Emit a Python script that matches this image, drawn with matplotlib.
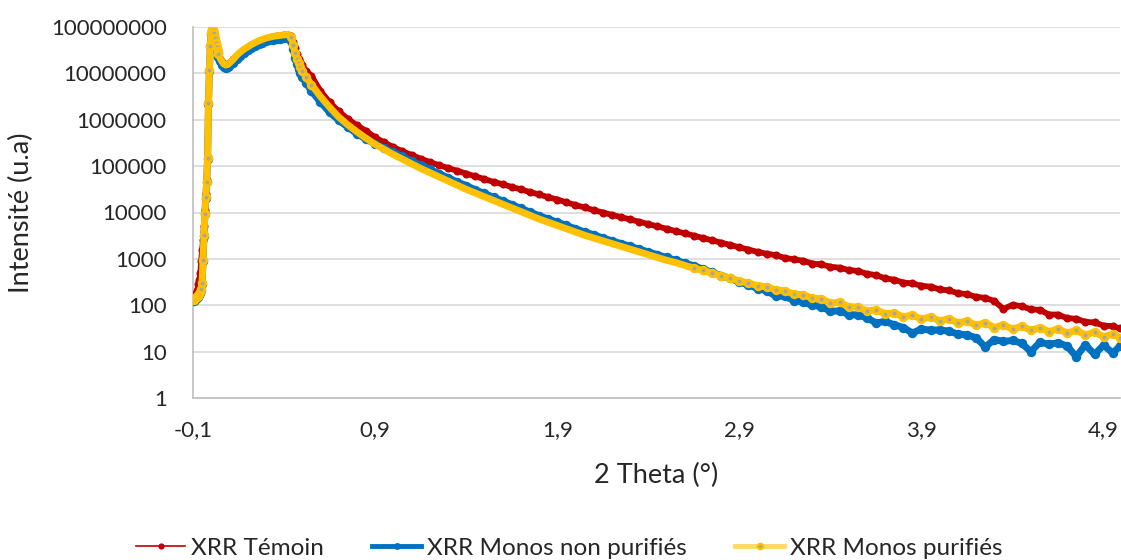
import matplotlib
matplotlib.use('Agg')
import matplotlib.pyplot as plt
from matplotlib.lines import Line2D
from matplotlib.ticker import NullLocator
import numpy as np

plt.rcParams['font.family'] = ['Lato', 'DejaVu Sans']

# 2 theta (deg): fine steps around the critical edge, then the decay
theta_peak = [-0.095, -0.09, -0.085, -0.08, -0.075, -0.07, -0.065, -0.06, -0.055, -0.05,
              -0.045, -0.04, -0.035, -0.03, -0.025, -0.02, -0.015, -0.01, -0.005, 0.0,
              0.005, 0.01, 0.015, 0.02, 0.025, 0.03, 0.035, 0.04,
              0.05, 0.06, 0.07, 0.08, 0.09, 0.10,
              0.12, 0.14, 0.16, 0.18, 0.20, 0.22, 0.24, 0.26, 0.28, 0.30, 0.32, 0.34,
              0.36, 0.38, 0.40, 0.42,
              0.44, 0.45, 0.46, 0.47, 0.48, 0.49, 0.50, 0.52]
theta_decay = [0.55, 0.60, 0.65, 0.70, 0.75, 0.80, 0.85, 0.90, 0.95, 1.00,
               1.05, 1.10, 1.15, 1.20, 1.25, 1.30, 1.35, 1.40, 1.45, 1.50,
               1.55, 1.60, 1.65, 1.70, 1.75, 1.80, 1.85, 1.90, 1.95, 2.00,
               2.05, 2.10, 2.15, 2.20, 2.25, 2.30, 2.35, 2.40, 2.45, 2.50,
               2.55, 2.60, 2.65, 2.70, 2.75, 2.80, 2.85, 2.90, 2.95, 3.00,
               3.05, 3.10, 3.15, 3.20, 3.25, 3.30, 3.35, 3.40, 3.45, 3.50,
               3.55, 3.60, 3.65, 3.70, 3.75, 3.80, 3.85, 3.90, 3.95, 4.00,
               4.05, 4.10, 4.15, 4.20, 4.25, 4.30, 4.35, 4.40, 4.45, 4.50,
               4.55, 4.60, 4.65, 4.70, 4.75, 4.80, 4.85, 4.90, 4.95, 4.99]

# log10 of intensity
log_temoin_peak = [2.15, 2.20, 2.25, 2.30, 2.35, 2.45, 2.55, 2.70, 2.95, 3.20,
                   3.40, 3.70, 4.05, 4.40, 4.70, 5.20, 6.38, 7.08, 7.60, 7.87,
                   7.95, 7.94, 7.87, 7.77, 7.66, 7.57, 7.49, 7.42,
                   7.32, 7.25, 7.20, 7.18, 7.19, 7.22,
                   7.30, 7.38, 7.45, 7.51, 7.56, 7.61, 7.65, 7.69, 7.72, 7.75, 7.77, 7.79,
                   7.80, 7.81, 7.82, 7.83,
                   7.80, 7.68, 7.54, 7.42, 7.32, 7.24, 7.17, 7.06]
log_temoin_decay = [6.95, 6.62, 6.38, 6.18, 6.02, 5.88, 5.76, 5.62, 5.51, 5.41,
                    5.32, 5.24, 5.16, 5.09, 5.02, 4.96, 4.90, 4.84, 4.78, 4.72,
                    4.66, 4.61, 4.55, 4.50, 4.44, 4.39, 4.33, 4.28, 4.22, 4.16,
                    4.11, 4.05, 4.00, 3.95, 3.90, 3.85, 3.80, 3.75, 3.70, 3.65,
                    3.60, 3.55, 3.50, 3.45, 3.40, 3.35, 3.30, 3.25, 3.20, 3.15,
                    3.11, 3.08, 3.02, 2.99, 2.96, 2.90, 2.88, 2.83, 2.81, 2.76,
                    2.74, 2.68, 2.65, 2.58, 2.55, 2.49, 2.47, 2.42, 2.40, 2.34,
                    2.32, 2.26, 2.24, 2.18, 2.16, 2.09, 1.92, 2.01, 1.98, 1.91,
                    1.90, 1.80, 1.80, 1.72, 1.71, 1.64, 1.63, 1.56, 1.55, 1.50]

log_non_purif_peak = [2.10, 2.12, 2.15, 2.16, 2.18, 2.20, 2.22, 2.26, 2.32, 2.45,
                      2.95, 3.50, 3.96, 4.32, 4.65, 5.15, 6.34, 7.05, 7.58, 7.85,
                      7.93, 7.91, 7.84, 7.73, 7.62, 7.52, 7.44, 7.36,
                      7.26, 7.19, 7.14, 7.12, 7.13, 7.16,
                      7.23, 7.31, 7.38, 7.45, 7.50, 7.55, 7.59, 7.63, 7.66, 7.69, 7.71, 7.73,
                      7.74, 7.75, 7.76, 7.76,
                      7.70, 7.52, 7.34, 7.20, 7.09, 7.00, 6.92, 6.80]
log_non_purif_decay = [6.62, 6.38, 6.16, 5.99, 5.84, 5.70, 5.58, 5.48, 5.39, 5.30,
                       5.21, 5.11, 5.02, 4.93, 4.84, 4.75, 4.66, 4.58, 4.49, 4.41,
                       4.33, 4.25, 4.17, 4.09, 4.01, 3.93, 3.86, 3.79, 3.72, 3.65,
                       3.58, 3.52, 3.45, 3.39, 3.33, 3.27, 3.21, 3.15, 3.09, 3.03,
                       2.97, 2.91, 2.85, 2.78, 2.71, 2.64, 2.58, 2.50, 2.44, 2.36,
                       2.31, 2.20, 2.19, 2.10, 2.07, 2.00, 1.97, 1.87, 1.88, 1.80,
                       1.79, 1.73, 1.62, 1.65, 1.58, 1.52, 1.40, 1.49, 1.46, 1.47,
                       1.44, 1.38, 1.36, 1.30, 1.10, 1.26, 1.22, 1.24, 1.18, 1.00,
                       1.20, 1.16, 1.19, 1.12, 0.89, 1.15, 0.94, 1.14, 0.97, 1.12]

log_purif_peak = [2.12, 2.15, 2.17, 2.18, 2.20, 2.22, 2.25, 2.28, 2.35, 2.48,
                  2.97, 3.51, 3.97, 4.33, 4.66, 5.17, 6.36, 7.07, 7.60, 7.87,
                  7.95, 7.94, 7.87, 7.77, 7.66, 7.57, 7.49, 7.42,
                  7.32, 7.25, 7.20, 7.18, 7.19, 7.22,
                  7.30, 7.39, 7.46, 7.52, 7.57, 7.62, 7.66, 7.70, 7.73, 7.76, 7.78, 7.80,
                  7.81, 7.82, 7.83, 7.84,
                  7.79, 7.62, 7.45, 7.32, 7.22, 7.14, 7.06, 6.93]
log_purif_decay = [6.76, 6.50, 6.27, 6.06, 5.89, 5.74, 5.60, 5.47, 5.36, 5.25,
                   5.15, 5.05, 4.95, 4.86, 4.77, 4.68, 4.59, 4.50, 4.42, 4.34,
                   4.26, 4.18, 4.10, 4.02, 3.94, 3.86, 3.79, 3.72, 3.65, 3.58,
                   3.51, 3.45, 3.39, 3.33, 3.27, 3.21, 3.15, 3.09, 3.03, 2.97,
                   2.92, 2.86, 2.80, 2.75, 2.70, 2.63, 2.59, 2.52, 2.48, 2.42,
                   2.40, 2.33, 2.31, 2.24, 2.23, 2.15, 2.14, 2.05, 2.06, 1.97,
                   1.96, 1.88, 1.90, 1.82, 1.83, 1.75, 1.79, 1.70, 1.75, 1.66,
                   1.71, 1.62, 1.66, 1.57, 1.62, 1.52, 1.58, 1.48, 1.55, 1.46,
                   1.52, 1.43, 1.49, 1.40, 1.46, 1.36, 1.42, 1.32, 1.38, 1.30]

series_names = ['XRR Témoin', 'XRR Monos non purifiés', 'XRR Monos purifiés']

x_ticks = [-0.1, 0.9, 1.9, 2.9, 3.9, 4.9]
x_tick_labels = ['-0,1', '0,9', '1,9', '2,9', '3,9', '4,9']
y_ticks = [1, 10, 100, 1000, 10000, 100000, 1000000, 10000000, 100000000]
y_tick_labels = ['1', '10', '100', '1000', '10000', '100000', '1000000',
                 '10000000', '100000000']

theta = np.array(theta_peak + theta_decay)
temoin = 10 ** np.array(log_temoin_peak + log_temoin_decay)
non_purif = 10 ** np.array(log_non_purif_peak + log_non_purif_decay)
purif = 10 ** np.array(log_purif_peak + log_purif_decay)

# where the yellow points spread apart, their grey centres show
spread = (theta < 0.05) | ((theta > 0.43) & (theta < 0.6)) | (theta > 2.6)

fig = plt.figure(figsize=(11.21, 5.60), dpi=100)
ax = fig.add_axes([193 / 1121, 162 / 560, 927 / 1121, 371 / 560])

# dense measurement points make thick bands in the original
ax.plot(theta, temoin, color='#C00000', lw=4.2, marker='o', ms=5.8, mew=0, zorder=3)
ax.plot(theta, non_purif, color='#0070C0', lw=5.0, marker='o', ms=6.8, mew=0, zorder=4)
ax.plot(theta, purif, color='#FFC000', lw=5.0, marker='o', ms=4.8, markevery=spread,
        mfc='#A5A5A5', mec='#FFC000', mew=2.0, zorder=5)

ax.set_yscale('log')
ax.set_ylim(1, 1e8)
ax.set_xlim(-0.1, 4.99)
ax.set_yticks(y_ticks)
ax.set_yticklabels(y_tick_labels)
ax.yaxis.set_minor_locator(NullLocator())
ax.set_xticks(x_ticks)
ax.set_xticklabels(x_tick_labels)
ax.tick_params(axis='both', length=0, labelsize=16, labelcolor='#262626')
ax.tick_params(axis='y', pad=19)
ax.tick_params(axis='x', pad=16)

ax.grid(axis='y', color='#D9D9D9', lw=1.2)
ax.set_axisbelow(True)
for side in ['top', 'right']:
    ax.spines[side].set_visible(False)
for side in ['left', 'bottom']:
    ax.spines[side].set_color('#BFBFBF')
    ax.spines[side].set_linewidth(1.2)

ax.set_xlabel('2 Theta (°)', fontsize=19.5, color='#262626')
ax.xaxis.set_label_coords(0.5, -0.2075)
ax.xaxis.label.set_va('center')
ax.set_ylabel('Intensité (u.a)', fontsize=19.5, color='#262626')
ax.yaxis.set_label_coords(-0.1845, 0.5)
ax.yaxis.label.set_va('center')

handles = [Line2D([], [], color='#C00000', lw=1.2, marker='o', ms=4.5, mew=0),
           Line2D([], [], color='#0070C0', lw=3.5, marker='o', ms=5, mew=0),
           Line2D([], [], color='#FFD966', lw=3.5, marker='o', ms=4,
                  mfc='#A5A5A5', mec='#FFC000', mew=1.5)]
fig.legend(handles, series_names, loc='center', bbox_to_anchor=(0.508, 0.021),
           ncol=3, frameon=False, fontsize=17.5, handlelength=2.0,
           handletextpad=0.25, columnspacing=2.0, labelcolor='#262626',
           borderpad=0.2)

fig.savefig('out.png', dpi=100)
